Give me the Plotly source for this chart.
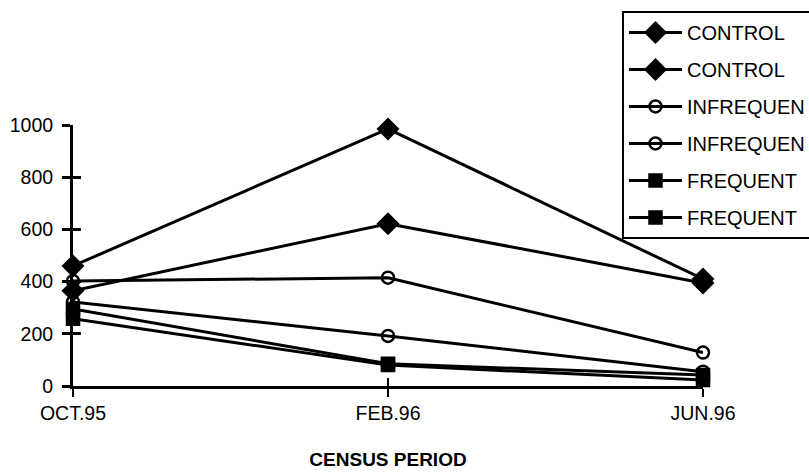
import plotly.graph_objects as go

# Census periods on the category axis
periods = ["OCT.95", "FEB.96", "JUN.96"]

# Counts per census period for each treatment plot
control_a = [460, 985, 410]
control_b = [365, 622, 395]
infrequent_a = [402, 415, 128]
infrequent_b = [322, 192, 55]
frequent_a = [295, 85, 42]
frequent_b = [258, 80, 23]

y_ticks = [0, 200, 400, 600, 800, 1000]

series = [
    ("CONTROL", control_a, "diamond"),
    ("CONTROL", control_b, "diamond"),
    ("INFREQUEN", infrequent_a, "circle-open"),
    ("INFREQUEN", infrequent_b, "circle-open"),
    ("FREQUENT", frequent_a, "square"),
    ("FREQUENT", frequent_b, "square"),
]

marker_sizes = {"diamond": 15, "circle-open": 12, "square": 12}

fig = go.Figure()
for i, (name, vals, sym) in enumerate(series):
    fig.add_trace(go.Scatter(
        x=periods, y=vals, name=name, mode="lines+markers",
        legendgroup=f"g{i}",
        line=dict(color="black", width=3),
        marker=dict(symbol=sym, size=marker_sizes[sym], color="black",
                    line=dict(color="black", width=2.5)),
        cliponaxis=False,
    ))

# Overlay axes carry the inner half of the crossing tick marks
fig.add_trace(go.Scatter(x=[], y=[], xaxis="x2", yaxis="y2",
                         showlegend=False, hoverinfo="skip"))

font_family = "Liberation Sans, Arial, sans-serif"

fig.update_layout(
    width=809, height=472,
    margin=dict(l=73, r=106, t=125, b=86, autoexpand=False),
    paper_bgcolor="white", plot_bgcolor="white",
    font=dict(family=font_family, color="black", size=19),
    showlegend=True,
    legend=dict(
        x=0.8714, y=1.4368, xanchor="left", yanchor="top",
        bordercolor="black", borderwidth=2, bgcolor="white",
        font=dict(size=20, family=font_family, color="black"),
        itemwidth=53, tracegroupgap=8,
    ),
    xaxis=dict(
        type="category", range=[0, 2],
        showline=True, linecolor="black", linewidth=2.5,
        ticks="outside", ticklen=8, tickwidth=2, tickcolor="black",
        showgrid=False, zeroline=False,
        tickfont=dict(size=19.5),
        title=dict(text="CENSUS PERIOD",
                   font=dict(size=19, weight="bold"), standoff=30),
    ),
    yaxis=dict(
        range=[0, 1000], tickvals=y_ticks,
        showline=True, linecolor="black", linewidth=3,
        ticks="outside", ticklen=8, tickwidth=2.5, tickcolor="black",
        showgrid=False, zeroline=False,
        tickfont=dict(size=19.5), ticklabelstandoff=5,
    ),
    xaxis2=dict(
        overlaying="x", range=[0, 2], tickvals=[0, 1, 2],
        showticklabels=False, ticks="inside", ticklen=8, tickwidth=2,
        tickcolor="black", showgrid=False, zeroline=False, showline=False,
    ),
    yaxis2=dict(
        overlaying="y", range=[0, 1000], tickvals=y_ticks,
        showticklabels=False, ticks="inside", ticklen=8, tickwidth=2.5,
        tickcolor="black", showgrid=False, zeroline=False, showline=False,
    ),
)

fig.write_html("out.html")
